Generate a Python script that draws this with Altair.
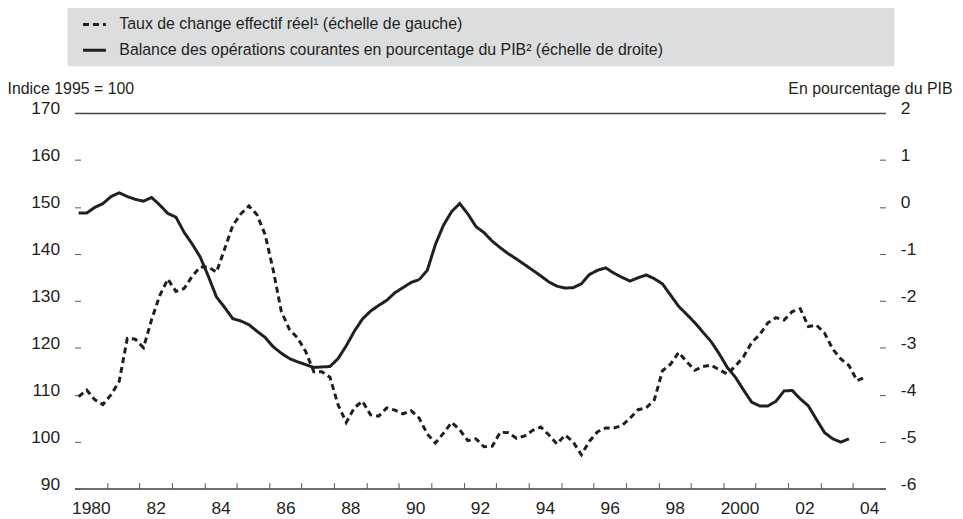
import altair as alt
import pandas as pd

# ---------------- data (quarterly) ----------------
quarters = [f"{y}-T{q}" for y in range(1980, 2005) for q in range(1, 5)]

eer_values = [
    109.6, 111.0, 108.9, 107.9, 110.0, 112.8, 122.0, 121.8, 120.0, 126.0,
    131.1, 134.6, 132.0, 132.6, 135.2, 137.2, 137.2, 136.1, 141.0, 146.0,
    148.5, 150.2, 148.3, 144.1, 136.5, 127.7, 123.9, 122.1, 119.2, 114.9,
    114.9, 113.7, 107.8, 104.1, 107.2, 108.6, 105.7, 105.4, 107.2, 106.7,
    105.9, 106.6, 105.0, 101.6, 99.7, 101.8, 104.1, 102.5, 100.2, 100.6,
    98.9, 99.0, 102.0, 101.9, 100.7, 101.2, 102.4, 103.1, 101.4, 99.5,
    101.4, 99.9, 97.2, 100.1, 102.1, 102.9, 102.9, 103.4, 105.0, 106.8,
    107.2, 108.9, 115.1, 116.5, 119.0, 117.0, 115.2, 116.0, 116.3, 115.3,
    114.4, 116.1, 118.1, 121.1, 122.8, 125.3, 126.4, 125.9, 127.7, 128.3,
    124.5, 124.8, 123.1, 119.7, 117.6, 116.2, 113.0, 113.7,
]

ca_values = [
    -0.13, -0.13, -0.01, 0.07, 0.22, 0.30, 0.22, 0.16, 0.12, 0.20,
    0.04, -0.14, -0.22, -0.54, -0.79, -1.07, -1.48, -1.92, -2.14, -2.38,
    -2.43, -2.51, -2.65, -2.78, -2.98, -3.12, -3.23, -3.30, -3.36, -3.42,
    -3.41, -3.40, -3.23, -2.96, -2.65, -2.39, -2.22, -2.10, -1.99, -1.83,
    -1.72, -1.61, -1.55, -1.35, -0.80, -0.39, -0.10, 0.07, -0.15, -0.42,
    -0.55, -0.73, -0.87, -1.00, -1.11, -1.23, -1.35, -1.47, -1.60, -1.69,
    -1.73, -1.72, -1.64, -1.44, -1.35, -1.30, -1.41, -1.50, -1.58, -1.51,
    -1.45, -1.53, -1.64, -1.88, -2.12, -2.29, -2.47, -2.67, -2.87, -3.13,
    -3.42, -3.63, -3.90, -4.16, -4.24, -4.24, -4.14, -3.92, -3.91, -4.09,
    -4.24, -4.53, -4.81, -4.94, -5.01, -4.94,
]

S1 = "Taux de change effectif réel¹ (échelle de gauche)"
S2 = "Balance des opérations courantes en pourcentage du PIB² (échelle de droite)"

left_ticks = list(range(90, 171, 10))
right_ticks = list(range(-6, 3))
x_ticks = list(range(1981, 2006))


def qpos(label):
    y, q = label.split("-T")
    return int(y) + (int(q) - 0.5) / 4


df1 = pd.DataFrame({"periode": quarters[:len(eer_values)], "valeur": eer_values})
df1["t"] = df1["periode"].map(qpos)
df1["serie"] = S1
df2 = pd.DataFrame({"periode": quarters[:len(ca_values)], "valeur": ca_values})
df2["t"] = df2["periode"].map(qpos)
df2["serie"] = S2

INK = "#231f20"
TICK = "#555555"
FONT = "Liberation Sans, Arial, sans-serif"
TICKFS = 17.5

x_enc = alt.X(
    "t:Q",
    scale=alt.Scale(domain=[1980, 2005], nice=False, zero=False),
    axis=alt.Axis(
        values=x_ticks,
        labelExpr="datum.value % 2 == 1 ? ((datum.value - 1) % 20 == 0 ? toString(datum.value - 1) : slice(toString(datum.value - 1), 2)) : ''",
        labelOffset=-16.3,
        offset=-6,
        tickSize=6,
        tickColor=TICK,
        tickWidth=1,
        tickOpacity={"condition": {"test": "datum.value >= 2005", "value": 0}, "value": 1},
        domain=False,
        grid=False,
        title=None,
        labelPadding=11,
        labelFont=FONT,
        labelFontSize=TICKFS,
        labelColor=INK,
        labelOverlap=False,
        labelBound=False,
        labelFlush=False,
    ),
)

dash_enc = alt.StrokeDash(
    "serie:N",
    scale=alt.Scale(domain=[S1, S2], range=[[6, 4], [1, 0]]),
    legend=alt.Legend(
        title=None,
        orient="none",
        legendX=7,
        legendY=-102,
        direction="vertical",
        padding=0,
        rowPadding=5,
        labelFont=FONT,
        labelFontSize=16,
        labelColor=INK,
        labelLimit=1000,
        labelOffset=12,
        symbolType="stroke",
        symbolSize=529,
        symbolStrokeWidth=3,
        symbolStrokeColor=INK,
    ),
)

bg = alt.Chart(pd.DataFrame({"bg": [0]})).mark_rect(color="#dcdddf").encode(
    x=alt.value(-7), x2=alt.value(825), y=alt.value(-107), y2=alt.value(-47)
)

eer = alt.Chart(df1).mark_line(color=INK, strokeWidth=3, strokeCap="butt").encode(
    x=x_enc,
    y=alt.Y(
        "valeur:Q",
        scale=alt.Scale(domain=[90, 170], nice=False, zero=False),
        axis=alt.Axis(
            orient="left",
            values=left_ticks,
            offset=-6,
            tickSize=6,
            tickColor=TICK,
            domain=False,
            grid=True,
            gridColor="#404040",
            gridWidth=1.5,
            gridOpacity={"condition": {"test": "datum.value == 90 || datum.value == 170", "value": 1}, "value": 0},
            labelPadding=15,
            labelOffset=-4,
            labelFont=FONT,
            labelFontSize=TICKFS,
            labelColor=INK,
            title="Indice 1995 = 100",
            titleAngle=0,
            titleAlign="left",
            titleBaseline="middle",
            titleX=-74,
            titleY=-25,
            titleFont=FONT,
            titleFontSize=16,
            titleFontWeight="normal",
            titleColor=INK,
        ),
    ),
    strokeDash=dash_enc,
)

ca = alt.Chart(df2).mark_line(color=INK, strokeWidth=3).encode(
    x=x_enc,
    y=alt.Y(
        "valeur:Q",
        scale=alt.Scale(domain=[-6, 2], nice=False, zero=False),
        axis=alt.Axis(
            orient="right",
            values=right_ticks,
            labelExpr="toString(datum.value)",
            offset=-6,
            tickSize=6,
            tickColor=TICK,
            domain=False,
            grid=False,
            labelPadding=15,
            labelOffset=-4,
            labelFont=FONT,
            labelFontSize=TICKFS,
            labelColor=INK,
            title="En pourcentage du PIB",
            titleAngle=0,
            titleAlign="right",
            titleBaseline="middle",
            titleX=73,
            titleY=-25,
            titleFont=FONT,
            titleFontSize=16,
            titleFontWeight="normal",
            titleColor=INK,
        ),
    ),
    strokeDash=dash_enc,
)

chart = (
    alt.layer(bg, eer, ca)
    .resolve_scale(y="independent")
    .properties(
        width=816,
        height=378,
        autosize=alt.AutoSizeParams(type="none"),
        padding={"left": 67, "top": 104, "right": 70, "bottom": 29},
        background="white",
    )
    .configure_view(stroke=None)
)

chart.save("out.html", embed_options={"renderer": "svg", "actions": False})
